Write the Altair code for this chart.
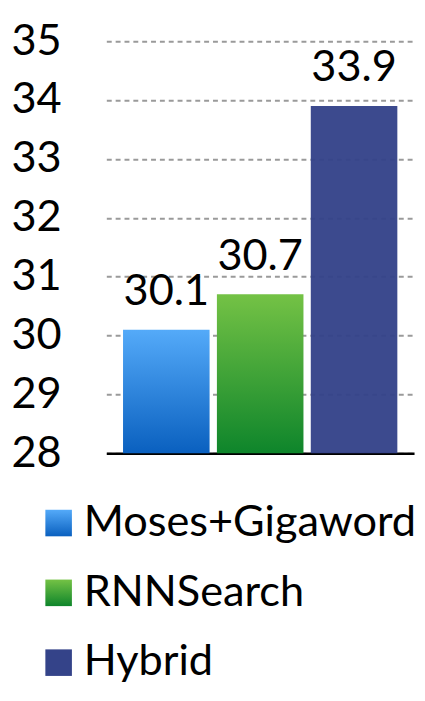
import altair as alt
import pandas as pd

methods = ["Moses+Gigaword", "RNNSearch", "Hybrid"]
scores = [30.1, 30.7, 33.9]
value_labels = ["30.1", "30.7", "33.9"]
y_ticks = [28, 29, 30, 31, 32, 33, 34, 35]
y_min, y_max = 28, 35

df = pd.DataFrame({"method": methods, "score": scores, "label": value_labels})

FONT = "Lato"

grads = {
    "Moses+Gigaword": alt.Gradient(gradient="linear", x1=0, y1=0, x2=0, y2=1,
                                   stops=[alt.GradientStop(color="#54aaf9", offset=0),
                                          alt.GradientStop(color="#0a60bf", offset=1)]),
    "RNNSearch": alt.Gradient(gradient="linear", x1=0, y1=0, x2=0, y2=1,
                              stops=[alt.GradientStop(color="#74c245", offset=0),
                                     alt.GradientStop(color="#0e852b", offset=1)]),
    "Hybrid": "#344389",
}

xenc = alt.X("method:N", sort=methods,
             scale=alt.Scale(paddingInner=0.078, paddingOuter=0.178),
             axis=alt.Axis(labels=False, ticks=False, title=None, grid=False,
                           domain=True, domainColor="#000000", domainWidth=2.5))
yenc = alt.Y("score:Q", scale=alt.Scale(domain=[y_min, y_max], nice=False, zero=False),
             axis=alt.Axis(values=y_ticks, title=None, ticks=False, domain=False,
                           labelFont=FONT, labelFontSize=44, labelColor="#000000",
                           labelPadding=46, grid=True, gridColor="#9a9a9a",
                           gridDash=[5, 4], gridWidth=2))

base = alt.Chart(df).encode(x=xenc, y=yenc)

bars = [
    base.transform_filter(alt.datum.method == m).mark_bar(
        fill=grads[m], opacity=0.96 if m == "Hybrid" else 1
    ).encode(y2=alt.datum(y_min))
    for m in methods
]
texts = base.mark_text(font=FONT, fontSize=44, baseline="alphabetic", dy=-25,
                       color="#000000").encode(text="label:N")

main = alt.layer(*bars, texts).properties(width=313, height=419)

# legend built as a small chart
lbase = alt.Chart(df).encode(
    y=alt.Y("method:N", sort=methods, axis=None, scale=alt.Scale(type="point", padding=0))
)
lsq = [
    lbase.transform_filter(alt.datum.method == m).mark_square(
        size=27 * 27, fill=grads[m], opacity=1).encode(x=alt.value(-48.5))
    for m in methods
]
ltext = lbase.mark_text(font=FONT, fontSize=44, align="left", baseline="middle",
                        color="#000000").encode(text="method:N", x=alt.value(-23))
legend = alt.layer(*lsq, ltext).properties(width=300, height=142)

chart = alt.vconcat(main, legend, spacing=27).properties(
    padding={"left": 2, "top": 6, "right": 0, "bottom": 2}
).configure_view(stroke=None).configure_concat(spacing=27)

chart.save("out.html", embed_options={"renderer": "svg", "actions": False})
